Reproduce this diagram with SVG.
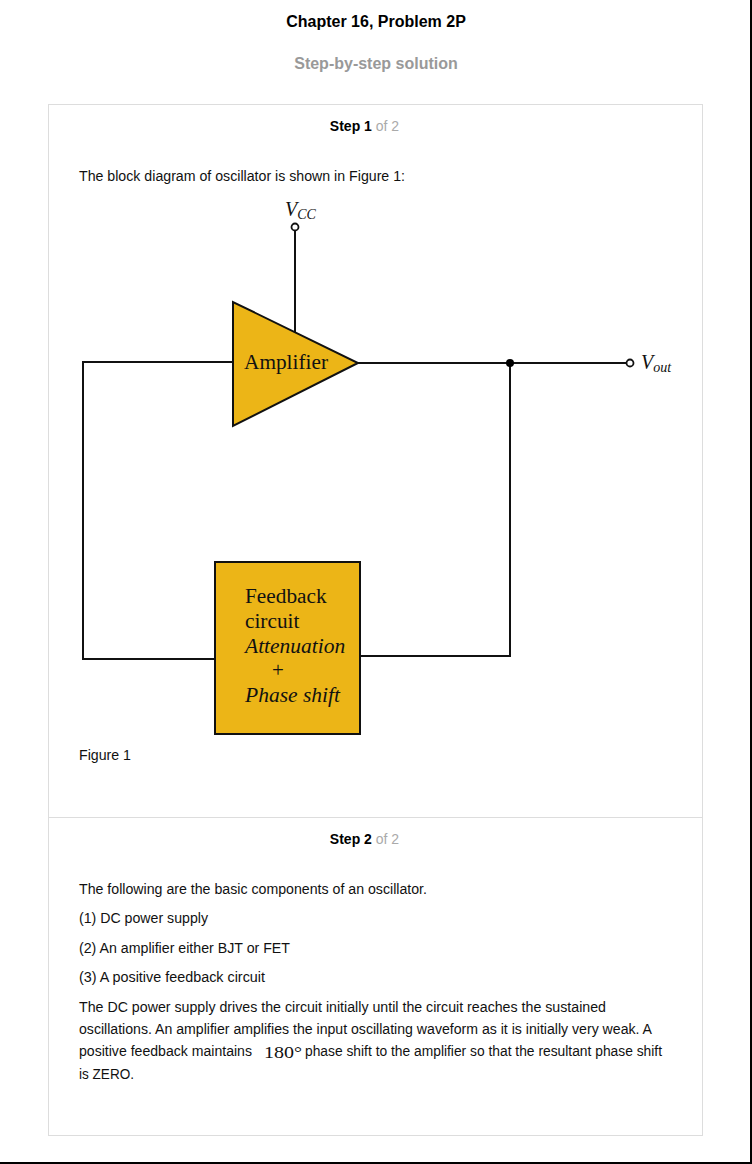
<svg xmlns="http://www.w3.org/2000/svg" width="752" height="1164" viewBox="0 0 752 1164">
<style>
.ui{font-family:"Liberation Sans",Arial,sans-serif;}
.body{font-family:"Liberation Sans",Arial,sans-serif;font-size:14px;fill:#111;}
.fig{font-family:"Liberation Serif","Times New Roman",serif;fill:#111;}
.wire{stroke:#111;stroke-width:2;fill:none;}
.blk{fill:#ECB517;stroke:#111;stroke-width:2;}
</style>
<rect x="0" y="0" width="752" height="1164" fill="#fff"/>
<line x1="751" y1="0" x2="751" y2="1163" stroke="#000" stroke-width="2"/>
<line x1="0" y1="1163" x2="752" y2="1163" stroke="#000" stroke-width="2"/>
<text class="ui" x="376" y="27" text-anchor="middle" font-size="16" font-weight="bold" fill="#000">Chapter 16, Problem 2P</text>
<text class="ui" x="376" y="69" text-anchor="middle" font-size="16" font-weight="bold" fill="#999">Step-by-step solution</text>
<rect x="48.5" y="104.5" width="654" height="1031" fill="none" stroke="#ddd" stroke-width="1"/>
<line x1="48" y1="817.5" x2="703" y2="817.5" stroke="#ddd" stroke-width="1"/>
<text class="ui" x="364.5" y="131" text-anchor="middle" font-size="14"><tspan font-weight="bold" fill="#000">Step 1</tspan><tspan fill="#aaa"> of 2</tspan></text>
<text class="body" x="79" y="181" textLength="326" lengthAdjust="spacingAndGlyphs">The block diagram of oscillator is shown in Figure 1:</text>
<g id="connectors">
<line class="wire" x1="295" y1="231" x2="295" y2="332"/>
<polyline class="wire" points="233,362 83,362 83,659 215,659"/>
<line class="wire" x1="358" y1="363" x2="626" y2="363"/>
<polyline class="wire" points="510,363 510,656 360,656"/>
<circle cx="510" cy="363" r="4" fill="#000"/>
</g>
<g id="vcc">
<circle cx="295" cy="227" r="3.5" fill="#fff" stroke="#111" stroke-width="1.8"/>
<text class="fig" x="285" y="216" font-size="20" font-style="italic">V<tspan font-size="14" dy="3">CC</tspan></text>
</g>
<g id="vout">
<circle cx="630" cy="363" r="3.5" fill="#fff" stroke="#111" stroke-width="1.8"/>
<text class="fig" x="641" y="369" font-size="20" font-style="italic">V<tspan font-size="14" dy="3">out</tspan></text>
</g>
<g id="amplifier">
<polygon class="blk" points="233,302 233,426 358,363"/>
<text class="fig" x="244" y="369" font-size="21.3">Amplifier</text>
</g>
<g id="feedback">
<rect class="blk" x="215" y="562" width="145" height="172"/>
<text class="fig" x="245" y="603" font-size="21.3">Feedback</text>
<text class="fig" x="245" y="628" font-size="21.3">circuit</text>
<text class="fig" x="245" y="653" font-size="21.5" font-style="italic">Attenuation</text>
<text class="fig" x="272" y="677" font-size="21">+</text>
<text class="fig" x="245" y="702" font-size="21.5" font-style="italic">Phase shift</text>
</g>
<text class="body" x="79" y="760" textLength="52" lengthAdjust="spacingAndGlyphs">Figure 1</text>
<text class="ui" x="364.5" y="844" text-anchor="middle" font-size="14"><tspan font-weight="bold" fill="#000">Step 2</tspan><tspan fill="#aaa"> of 2</tspan></text>
<text class="body" x="79" y="894" textLength="348" lengthAdjust="spacingAndGlyphs">The following are the basic components of an oscillator.</text>
<text class="body" x="79" y="923" textLength="129" lengthAdjust="spacingAndGlyphs">(1) DC power supply</text>
<text class="body" x="79" y="953" textLength="211" lengthAdjust="spacingAndGlyphs">(2) An amplifier either BJT or FET</text>
<text class="body" x="79" y="982" textLength="186" lengthAdjust="spacingAndGlyphs">(3) A positive feedback circuit</text>
<text class="body" x="79" y="1012" textLength="527" lengthAdjust="spacingAndGlyphs">The DC power supply drives the circuit initially until the circuit reaches the sustained</text>
<text class="body" x="79" y="1034" textLength="573" lengthAdjust="spacingAndGlyphs">oscillations. An amplifier amplifies the input oscillating waveform as it is initially very weak. A</text>
<text class="body" x="79" y="1056" textLength="173" lengthAdjust="spacingAndGlyphs">positive feedback maintains</text>
<text class="fig" x="264" y="1058" font-size="17" textLength="38" lengthAdjust="spacingAndGlyphs">180°</text>
<text class="body" x="305" y="1056" textLength="357" lengthAdjust="spacingAndGlyphs">phase shift to the amplifier so that the resultant phase shift</text>
<text class="body" x="79" y="1079" textLength="55" lengthAdjust="spacingAndGlyphs">is ZERO.</text>
</svg>
